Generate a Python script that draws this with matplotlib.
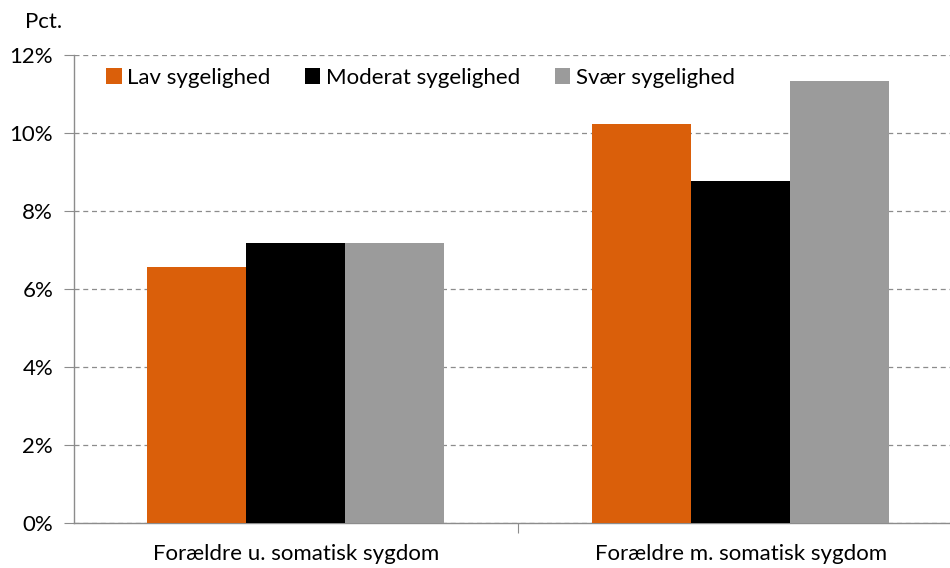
import matplotlib.pyplot as plt
import numpy as np
#
#--data (pct.)
categories=['Forældre u. somatisk sygdom','Forældre m. somatisk sygdom']
series=['Lav sygelighed','Moderat sygelighed','Svær sygelighed']
lav=[6.56,10.23]
moderat=[7.18,8.77]
svaer=[7.18,11.33]
yticks=[0,2,4,6,8,10,12]
#
colors=['#DA5F0A','#000000','#9B9B9B']
plt.rcParams['font.family']=['Lato','DejaVu Sans']
fs=16
W,H=950,568
fig=plt.figure(figsize=(W/100,H/100),dpi=100)
#--axes in pixel units: left 74, right edge of figure, 0% at y=523, 12% at y=55
ax=fig.add_axes([74/W,(H-523)/H,(W-74)/W,(523-55)/H])
#
x=np.arange(len(categories))
bw=0.2225
for i,(vals,name) in enumerate(zip([lav,moderat,svaer],series)):
    ax.bar(x+(i-1)*bw,vals,width=bw,color=colors[i],label=name,zorder=3)
#
ax.set_ylim(0,12)
ax.set_xlim(-0.4989,1.47)
ax.set_yticks(yticks)
ax.set_yticklabels([str(t)+'%' for t in yticks],fontsize=fs)
ax.set_xticks([0.5])
ax.set_xticklabels([''])
ax.tick_params(axis='x',length=7,color='#8C8C8C',direction='out')
ax.tick_params(axis='y',length=7,color='#8C8C8C',direction='out',pad=8)
for xi,cat in zip(x,categories):
    ax.text(xi,-0.55,cat,ha='center',va='top',fontsize=fs)
ax.grid(axis='y',color='#8C8C8C',linestyle=(0,(4,3)),linewidth=0.9,zorder=0)
for s in ['top','right']:
    ax.spines[s].set_visible(False)
for s in ['left','bottom']:
    ax.spines[s].set_color('#8C8C8C')
    ax.spines[s].set_linewidth(1.0)
#
fig.text(25/W,1-22/H,'Pct.',fontsize=fs,va='center',ha='left')
#
leg=ax.legend(loc='center left',bbox_to_anchor=(106/W,1-78/H),bbox_transform=fig.transFigure,
              ncol=3,frameon=False,fontsize=fs,handlelength=0.7,handleheight=0.7,
              handletextpad=0.25,columnspacing=1.55,borderaxespad=0,borderpad=0)
fig.savefig('out.png',dpi=100)
